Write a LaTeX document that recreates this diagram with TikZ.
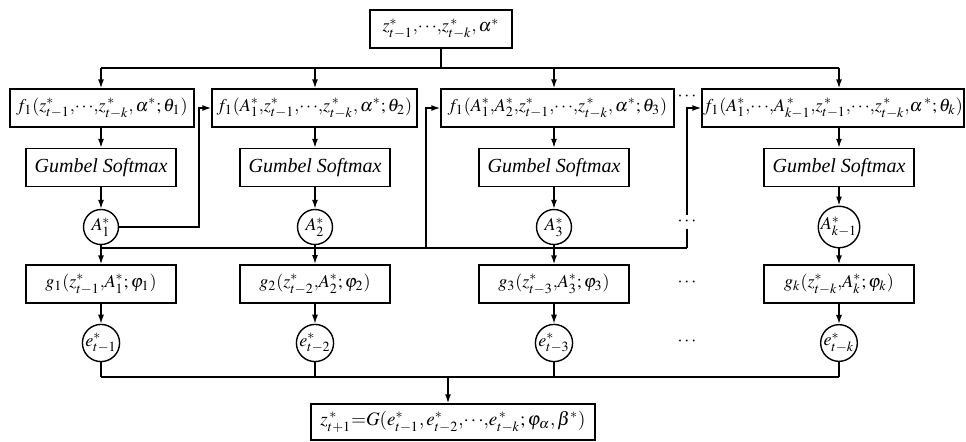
\documentclass[tikz,border=0pt]{standalone}
\usepackage{mathptmx}
\usepackage{fontspec}
\setmainfont{Liberation Serif}
\usetikzlibrary{arrows.meta}
\newcommand\MyC{\mathord{,}}
\newcommand\MyD{\mathord{\cdots}}
\begin{document}
\begin{tikzpicture}[x=0.5pt,y=-0.5pt,
  font=\fontsize{9}{11}\selectfont, line width=0.7pt,
  box/.style={draw, rectangle, inner sep=0pt, minimum height=19pt},
  gbox/.style={box, minimum width=75pt, font=\fontsize{10}{12}\selectfont\itshape},
  circ/.style={draw, circle, inner sep=0pt, minimum size=17.5pt},
  arr/.style={-{Latex[length=4.5pt,width=3pt]}}]
\useasboundingbox (0,0) rectangle (966,441);
% top
\node[box, minimum width=71pt] (top) at (441,29) {$z^*_{t-1}\MyC\MyD\MyC z^{\,*}_{t-k}\MyC\,\alpha^*$};
% row f
\node[box, minimum width=92pt] (f1) at (102,108) {$f_1(z^*_{t-1}\MyC\MyD\MyC z^{\,*}_{t-k}\MyC\,\alpha^*;\theta_1)$};
\node[box, minimum width=102.5pt] (f2) at (314.5,108) {$f_1(A^*_1\MyC z^*_{t-1}\MyC\MyD\MyC z^{\,*}_{t-k}\MyC\,\alpha^*;\theta_2)$};
\node[box, minimum width=116.5pt] (f3) at (557.5,108) {$f_1(A^*_1\MyC A^*_2\MyC z^*_{t-1}\MyC\MyD\MyC z^{\,*}_{t-k}\MyC\,\alpha^*;\theta_3)$};
\node[box, minimum width=131pt] (f4) at (833,108) {$f_1(A^*_1\MyC\MyD\MyC A^{\,*}_{k-1}\MyC z^{\,*}_{t-1}\MyC\MyD\MyC z^{\,*}_{t-k}\MyC\alpha^{\,*};\theta_k)$};
% gumbel
\node[gbox] (s1) at (101,167.5) {Gumbel Softmax};
\node[gbox] (s2) at (315,167.5) {Gumbel Softmax};
\node[gbox] (s3) at (554,167.5) {Gumbel Softmax};
\node[gbox] (s4) at (839,167.5) {Gumbel Softmax};
% A circles
\node[circ] (a1) at (101,227) {$A^*_1$};
\node[circ] (a2) at (315,227) {$A^*_2$};
\node[circ] (a3) at (554,227) {$A^*_3$};
\node[circ] (a4) at (839,227) {$A^*_{k-1}$};
% g boxes
\node[box, minimum width=75pt] (g1) at (101,284) {$g_1(z^*_{t-1}\MyC A^*_1;\varphi_1)$};
\node[box, minimum width=75pt, line width=1pt] (g2) at (315,284) {$g_2(z^*_{t-2}\MyC A^*_2;\varphi_2)$};
\node[box, minimum width=75pt] (g3) at (554,284) {$g_3(z^*_{t-3}\MyC A^*_3;\varphi_3)$};
\node[box, minimum width=75pt] (g4) at (839,284) {$g_k(z^*_{t-k}\MyC A^*_k;\varphi_k)$};
% e circles
\node[circ, minimum size=17pt] (e1) at (101,343) {$e^*_{t-1}$};
\node[circ, minimum size=17pt] (e2) at (315,343) {$e^*_{t-2}$};
\node[circ, minimum size=17pt] (e3) at (554,343) {$e^*_{t-3}$};
\node[circ, minimum size=17pt] (e4) at (839,343) {$e^*_{t-k}$};
% output
\node[box, minimum width=142pt, minimum height=18pt, font=\fontsize{9.5}{11}\selectfont] (out) at (453,422) {$z^{\,*}_{t+1}{=}G(e^*_{t-1}\MyC\, e^*_{t-2}\MyC\MyD\MyC e^{\,*}_{t-k};\varphi_\alpha\MyC\,\beta^*)$};
% dots
\node[inner sep=0pt] (dt) at (687,97) {$\cdots$};
\node[inner sep=0pt] (da) at (687,222) {$\cdots$};
\node (dg) at (687,283) {$\cdots$};
\node (de) at (687,342) {$\cdots$};
% coordinates
\coordinate (tb) at (441,68);
\coordinate (b1) at (101,68);
\coordinate (b2) at (315,68);
\coordinate (b3) at (554,68);
\coordinate (b4) at (839,68);
\coordinate (k1) at (199,227);
\coordinate (m1) at (101,248);
\coordinate (m3) at (426,248);
\coordinate (m4) at (687,248);
\coordinate (d1) at (687,229);
\coordinate (d2) at (687,215);
\coordinate (n1) at (101,377);
\coordinate (n4) at (839,377);
\coordinate (no) at (448,377);
% top distribution
\draw (top.south) -- (tb);
\draw (b1) -- (b4);
\draw[arr] (b1) -- (b1 |- f1.north);
\draw[arr] (b2) -- (b2 |- f2.north);
\draw[arr] (b3) -- (b3 |- f3.north);
\draw[arr] (b4) -- (b4 |- f4.north);
% f to gumbel
\draw[arr] (s1 |- f1.south) -- (s1.north);
\draw[arr] (s2 |- f2.south) -- (s2.north);
\draw[arr] (s3 |- f3.south) -- (s3.north);
\draw[arr] (s4 |- f4.south) -- (s4.north);
% gumbel to A
\draw[arr] (s1) -- (a1);
\draw[arr] (s2) -- (a2);
\draw[arr] (s3) -- (a3);
\draw[arr] (s4) -- (a4);
% feedback
\draw[arr] (a1.east) -- (k1) |- (f2.west);
\draw (m1) -- (m4);
\draw[arr] (m3) |- (f3.west);
\draw (m4) -- (d1);
\draw[arr] (d2) |- (f4.west);
% A to g
\draw[arr] (a1) -- (g1);
\draw[arr] (a2) -- (g2);
\draw[arr] (a3) -- (g3);
\draw[arr] (a4) -- (g4);
% g to e
\draw[arr] (g1) -- (e1);
\draw[arr] (g2) -- (e2);
\draw[arr] (g3) -- (e3);
\draw[arr] (g4) -- (e4);
% e to bottom bus
\draw (e1.south) -- (n1);
\draw (e2.south) -- (e2 |- n1);
\draw (e3.south) -- (e3 |- n1);
\draw (e4.south) -- (n4);
\draw (n1) -- (n4);
\draw[arr] (no) -- (no |- out.north);
\end{tikzpicture}
\end{document}
